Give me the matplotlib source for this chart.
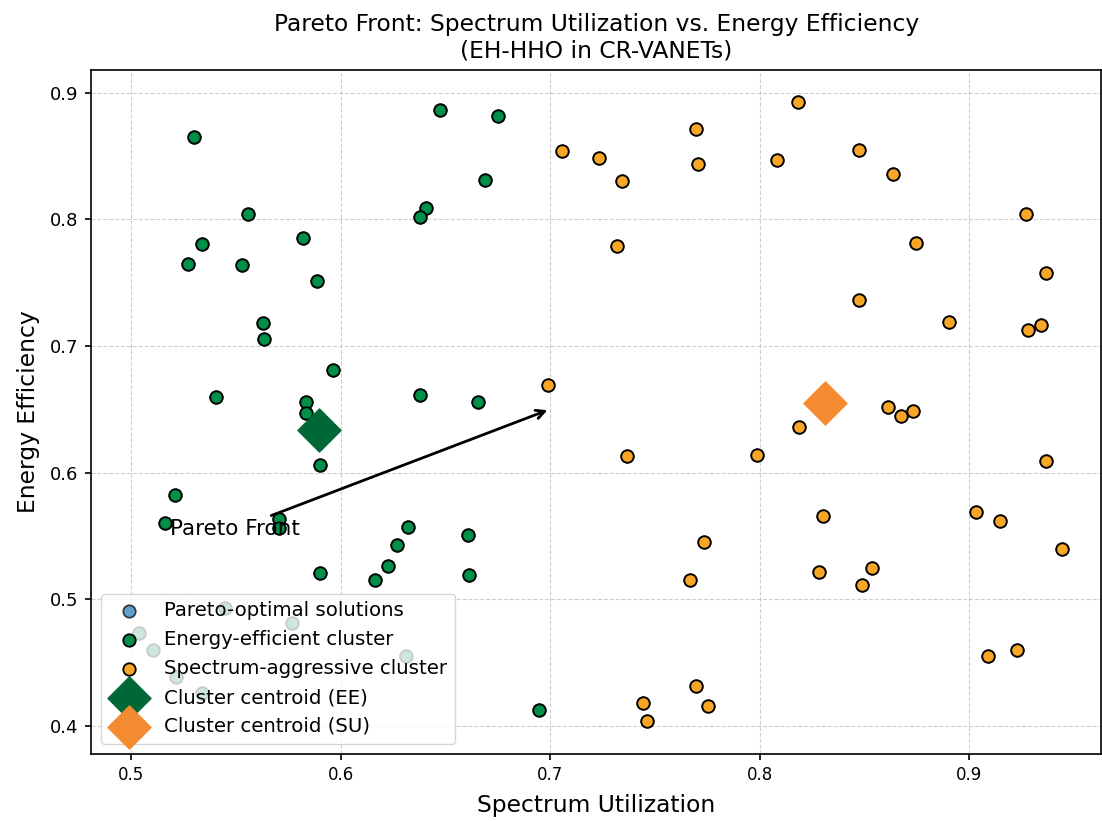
"""
Pareto front scatter: spectrum utilization vs energy efficiency (EH-HHO in CR-VANETs)
"""
import numpy as np
import matplotlib
matplotlib.use("Agg")
import matplotlib.pyplot as plt

# energy-efficient cluster
ee_su = [0.5299, 0.5556, 0.5340, 0.5269, 0.5528, 0.5820, 0.5888, 0.5628, 0.5635, 0.6472,
         0.6750, 0.6690, 0.6405, 0.6377, 0.5964, 0.5406, 0.5834, 0.5834, 0.5901, 0.6380,
         0.6656, 0.5210, 0.5162, 0.5705, 0.5705, 0.5901, 0.6166, 0.6228, 0.6268, 0.6323,
         0.6607, 0.6615, 0.6949, 0.5449, 0.5035, 0.5102, 0.5215, 0.5337, 0.5767, 0.6313]
ee_ee = [0.8647, 0.8043, 0.7808, 0.7650, 0.7637, 0.7850, 0.7516, 0.7177, 0.7056, 0.8860,
         0.8816, 0.8311, 0.8090, 0.8019, 0.6808, 0.6595, 0.6559, 0.6469, 0.6056, 0.6616,
         0.6553, 0.5822, 0.5598, 0.5635, 0.5559, 0.5204, 0.5148, 0.5259, 0.5427, 0.5572,
         0.5506, 0.5190, 0.4128, 0.4927, 0.4735, 0.4598, 0.4385, 0.4262, 0.4814, 0.4551]

# spectrum-aggressive cluster
sa_su = [0.6989, 0.7368, 0.7737, 0.7668, 0.7695, 0.7444, 0.7756, 0.7463, 0.7056, 0.7232,
         0.7342, 0.7695, 0.7708, 0.7320, 0.8184, 0.8082, 0.8476, 0.8637, 0.9271, 0.8747,
         0.8476, 0.8903, 0.9284, 0.9344, 0.9366, 0.8190, 0.7988, 0.8612, 0.8674, 0.8734,
         0.9366, 0.8302, 0.8284, 0.8537, 0.8491, 0.9034, 0.9150, 0.9445, 0.9092, 0.9230]
sa_ee = [0.6695, 0.6130, 0.5451, 0.5148, 0.4317, 0.4183, 0.4159, 0.4039, 0.8537, 0.8482,
         0.8300, 0.8716, 0.8435, 0.7785, 0.8927, 0.8469, 0.8548, 0.8355, 0.8043, 0.7809,
         0.7361, 0.7190, 0.7127, 0.7167, 0.7574, 0.6356, 0.6135, 0.6514, 0.6449, 0.6483,
         0.6090, 0.5654, 0.5214, 0.5249, 0.5112, 0.5685, 0.5617, 0.5393, 0.4554, 0.4599]

# cluster centroids
centroid_ee = (0.5896, 0.6338)
centroid_su = (0.8314, 0.6551)

# annotation
arrow_target = (0.70, 0.65)
arrow_text_pos = (0.5186, 0.5504)

# all solutions on the front
pareto_su = ee_su + sa_su
pareto_ee = ee_ee + sa_ee

# %%
plt.rcParams["axes.linewidth"] = 1.2
plt.rcParams["xtick.major.width"] = 1.2
plt.rcParams["ytick.major.width"] = 1.2
plt.rcParams["xtick.major.size"] = 4.2
plt.rcParams["ytick.major.size"] = 4.2

fig = plt.figure(figsize=(11.02, 8.21), dpi=100)
ax = fig.add_subplot(111)
fig.subplots_adjust(left=0.083, right=0.999, top=0.915, bottom=0.082)

ax.scatter(pareto_su, pareto_ee, s=80, c="#1f77b4", alpha=0.7, edgecolors="black",
           linewidths=1.3, label="Pareto-optimal solutions", zorder=2)
ax.scatter(ee_su, ee_ee, s=80, c="#00904A", edgecolors="black", linewidths=1.3,
           label="Energy-efficient cluster", zorder=3)
ax.scatter(sa_su, sa_ee, s=80, c="#F8A628", edgecolors="black", linewidths=1.3,
           label="Spectrum-aggressive cluster", zorder=3)
ax.scatter([centroid_ee[0]], [centroid_ee[1]], s=480, marker="D", c="#006837",
           label="Cluster centroid (EE)", zorder=4)
ax.scatter([centroid_su[0]], [centroid_su[1]], s=480, marker="D", c="#F58B30",
           label="Cluster centroid (SU)", zorder=4)

ax.annotate("Pareto Front", xy=arrow_target, xytext=arrow_text_pos, fontsize=15.5,
            arrowprops=dict(arrowstyle="->", color="black", lw=2), zorder=5)

ax.set_xlim(0.481, 0.963)
ax.set_ylim(0.378, 0.918)
ax.set_xticks([0.5, 0.6, 0.7, 0.8, 0.9])
ax.set_yticks([0.4, 0.5, 0.6, 0.7, 0.8, 0.9])
ax.tick_params(axis="x", labelsize=12, pad=5)
ax.tick_params(axis="y", labelsize=13, pad=5)
ax.set_xlabel("Spectrum Utilization", fontsize=16.8, labelpad=7)
ax.set_ylabel("Energy Efficiency", fontsize=16.8, labelpad=7)
ax.set_title("Pareto Front: Spectrum Utilization vs. Energy Efficiency\n(EH-HHO in CR-VANETs)",
             fontsize=16.8, pad=9)
ax.grid(True, linestyle="--", alpha=0.6)
ax.legend(loc="lower left", fontsize=14.2)

fig.savefig("out.png", dpi=100)
